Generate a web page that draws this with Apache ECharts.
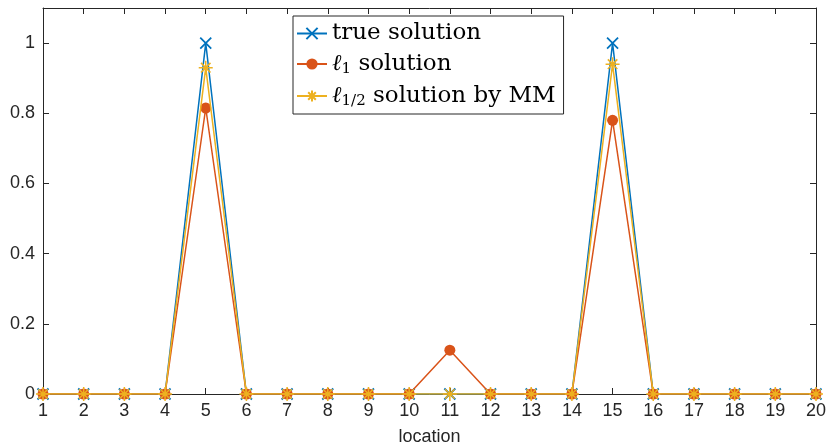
<!DOCTYPE html>
<html>
<head>
<meta charset="utf-8">
<script src="https://cdn.jsdelivr.net/npm/echarts@6/dist/echarts.min.js"></script>
<style>
  html, body { margin: 0; padding: 0; background: #fff; }
  #chart { width: 828px; height: 447px; }
</style>
</head>
<body>
<div id="chart"></div>
<script>
// data
const locations = [1, 2, 3, 4, 5, 6, 7, 8, 9, 10, 11, 12, 13, 14, 15, 16, 17, 18, 19, 20]
const trueSol = [0, 0, 0, 0, 1, 0, 0, 0, 0, 0, 0, 0, 0, 0, 1, 0, 0, 0, 0, 0]
const l1Sol = [0, 0, 0, 0, 0.815, 0, 0, 0, 0, 0, 0.125, 0, 0, 0, 0.78, 0, 0, 0, 0, 0]
const lHalfSol = [0, 0, 0, 0, 0.93, 0, 0, 0, 0, 0, 0, 0, 0, 0, 0.94, 0, 0, 0, 0, 0]
const yTicks = [0, 0.2, 0.4, 0.6, 0.8, 1]

const axisColor = '#262626'
const tickFont = 'Liberation Sans'
const legendFont = 'DejaVu Serif'

const xMark = 'path://M0,0L10,10M10,0L0,10'
const starMark = 'path://M5,0L5,10M0,5L10,5M1.6,1.6L8.4,8.4M8.4,1.6L1.6,8.4'

const pairs = (ys) => locations.map((x, i) => [x, ys[i]])

const myChart = echarts.init(document.getElementById('chart'))

const option = {
  backgroundColor: '#fff',
  animation: false,
  grid: { left: 43, right: 12, top: 8, bottom: 53, containLabel: false, outerBoundsMode: 'none' },
  legend: {
    orient: 'vertical',
    left: 293,
    top: 16,
    width: 274,
    padding: [6, 8, 5, 3],
    itemGap: 6,
    itemWidth: 30,
    itemHeight: 14,
    backgroundColor: '#fff',
    borderColor: axisColor,
    borderWidth: 1,
    borderRadius: 0,
    data: ['true', 'l1', 'lhalf'],
    formatter: (name) => {
      if (name === 'true') return '{t|true solution}'
      if (name === 'l1') return '{i|ℓ}{s|1}{t| solution}'
      return '{i|ℓ}{s|1/2}{t| solution by MM}'
    },
    textStyle: {
      color: '#000',
      rich: {
        t: { fontFamily: legendFont, fontSize: 23, color: '#000', lineHeight: 28 },
        i: { fontFamily: legendFont, fontSize: 23, fontStyle: 'italic', color: '#000', lineHeight: 28 },
        s: { fontFamily: legendFont, fontSize: 15, color: '#000', padding: [11, 0, 0, 0], lineHeight: 28 }
      }
    }
  },
  xAxis: [{
    type: 'value',
    min: 1,
    max: 20,
    interval: 1,
    name: 'location',
    nameLocation: 'middle',
    nameGap: 34,
    nameTextStyle: { fontFamily: tickFont, fontSize: 18, color: axisColor },
    axisLine: { show: true, lineStyle: { color: axisColor, width: 1 } },
    axisTick: { show: true, inside: true, length: 6, lineStyle: { color: axisColor } },
    axisLabel: { fontFamily: tickFont, fontSize: 18, color: axisColor, margin: 8 },
    splitLine: { show: false }
  }, {
    type: 'value',
    position: 'top',
    min: 1,
    max: 20,
    interval: 1,
    axisLine: { show: true, onZero: false, lineStyle: { color: axisColor, width: 1 } },
    axisTick: { show: true, inside: true, length: 6, lineStyle: { color: axisColor } },
    axisLabel: { show: false },
    splitLine: { show: false }
  }],
  yAxis: [{
    type: 'value',
    min: 0,
    max: 1.1,
    interval: 0.2,
    axisLine: { show: true, lineStyle: { color: axisColor, width: 1 } },
    axisTick: { show: true, inside: true, length: 6, lineStyle: { color: axisColor } },
    axisLabel: {
      fontFamily: tickFont, fontSize: 18, color: axisColor, margin: 8,
      formatter: (v) => yTicks.some(t => Math.abs(t - v) < 1e-6) ? String(Math.round(v * 10) / 10) : ''
    },
    splitLine: { show: false }
  }, {
    type: 'value',
    position: 'right',
    min: 0,
    max: 1.1,
    interval: 0.2,
    axisLine: { show: true, onZero: false, lineStyle: { color: axisColor, width: 1 } },
    axisTick: { show: true, inside: true, length: 6, lineStyle: { color: axisColor } },
    axisLabel: { show: false },
    splitLine: { show: false }
  }],
  series: [{
    name: 'true',
    type: 'line',
    data: pairs(trueSol),
    symbol: xMark,
    symbolSize: 11,
    showAllSymbol: true,
    lineStyle: { color: '#0072BD', width: 1.5 },
    itemStyle: { color: '#0072BD', borderColor: '#0072BD', borderWidth: 1.8 },
    z: 2
  }, {
    name: 'l1',
    type: 'line',
    data: pairs(l1Sol),
    symbol: 'circle',
    symbolSize: 11,
    showAllSymbol: true,
    lineStyle: { color: '#D95319', width: 1.5 },
    itemStyle: { color: '#D95319', borderWidth: 0 },
    z: 3
  }, {
    name: 'lhalf',
    type: 'line',
    data: pairs(lHalfSol),
    symbol: starMark,
    symbolSize: 14,
    showAllSymbol: true,
    lineStyle: { color: '#EDB120', width: 1.5 },
    itemStyle: { color: '#EDB120', borderColor: '#EDB120', borderWidth: 1.5 },
    z: 4
  }]
}

myChart.setOption(option, true)
</script>
</body>
</html>
